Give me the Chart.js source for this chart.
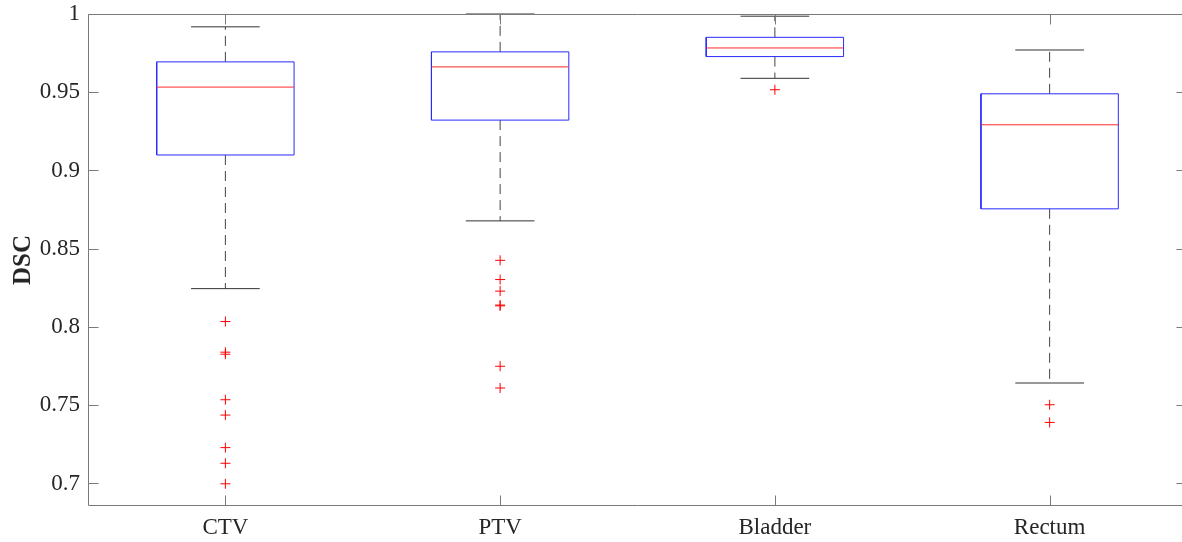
<!DOCTYPE html>
<html>
<head>
<meta charset="utf-8">
<script src="https://cdn.jsdelivr.net/npm/chart.js@4.4.0/dist/chart.umd.min.js"></script>
<style>
  html, body { margin: 0; padding: 0; background: #ffffff; overflow: hidden; }
  #wrap { position: relative; width: 1200px; height: 542px; }
</style>
</head>
<body>
<div id="wrap"><canvas id="c"></canvas></div>
<script>
// ---- data ----
const categories = ['CTV', 'PTV', 'Bladder', 'Rectum'];
const lowerWhisker = [0.8245, 0.8678, 0.9589, 0.7642];
const q1 = [0.9099, 0.9322, 0.9728, 0.8755];
const median = [0.9533, 0.9662, 0.9783, 0.9292];
const q3 = [0.9694, 0.9758, 0.9851, 0.9490];
const upperWhisker = [0.9918, 1.0000, 0.9986, 0.9770];
const outliersCTV = [0.8035, 0.7839, 0.7826, 0.7535, 0.7437, 0.7229, 0.7129, 0.6998];
const outliersPTV = [0.8426, 0.8303, 0.8229, 0.8140, 0.8135, 0.7749, 0.7610];
const outliersBladder = [0.9516];
const outliersRectum = [0.7503, 0.7390];
const yTicks = [0.7, 0.75, 0.8, 0.85, 0.9, 0.95, 1];
const yLabels = ['0.7', '0.75', '0.8', '0.85', '0.9', '0.95', '1'];
const yMin = 0.6856, yMax = 1.0;

// ---- build library data from the arrays ----
const BOX_HALF = 0.25, CAP_HALF = 0.125;
const boxPts = [], medPts = [], whiskPts = [], capPts = [], outPts = [];
const allOutliers = [outliersCTV, outliersPTV, outliersBladder, outliersRectum];
categories.forEach((c, k) => {
  const i = k + 1;
  boxPts.push({x: i - BOX_HALF, y: q1[k]}, {x: i + BOX_HALF, y: q1[k]},
              {x: i + BOX_HALF, y: q3[k]}, {x: i - BOX_HALF, y: q3[k]},
              {x: i - BOX_HALF, y: q1[k]}, {x: i, y: null});
  medPts.push({x: i - BOX_HALF, y: median[k]}, {x: i + BOX_HALF, y: median[k]}, {x: i, y: null});
  whiskPts.push({x: i, y: q3[k]}, {x: i, y: upperWhisker[k]}, {x: i, y: null},
                {x: i, y: q1[k]}, {x: i, y: lowerWhisker[k]}, {x: i, y: null});
  capPts.push({x: i - CAP_HALF, y: upperWhisker[k]}, {x: i + CAP_HALF, y: upperWhisker[k]}, {x: i, y: null},
              {x: i - CAP_HALF, y: lowerWhisker[k]}, {x: i + CAP_HALF, y: lowerWhisker[k]}, {x: i, y: null});
  allOutliers[k].forEach(v => outPts.push({x: i, y: v}));
});

const FONT = "'Liberation Serif', 'Times New Roman', serif";
const AXIS_COLOR = '#7a7a7a';
const TEXT_COLOR = '#262626';

const frameTicks = {
  id: 'frameTicks',
  afterDraw(chart) {
    const {ctx, chartArea: a, scales} = chart;
    const L = Math.round(a.left) + 0.5, R = Math.round(a.right) - 0.5;
    const T = Math.round(a.top) + 0.5, B = Math.round(a.bottom) - 0.5;
    const TL = 10;
    ctx.save();
    ctx.strokeStyle = AXIS_COLOR;
    ctx.lineWidth = 1;
    ctx.beginPath();
    ctx.rect(L, T, R - L, B - T);
    scales.y.ticks.forEach(t => {
      const py = Math.round(scales.y.getPixelForValue(t.value)) + 0.5;
      ctx.moveTo(L, py); ctx.lineTo(L + TL, py);
      ctx.moveTo(R, py); ctx.lineTo(R - TL, py);
    });
    scales.x.ticks.forEach(t => {
      const px = Math.round(scales.x.getPixelForValue(t.value)) + 0.5;
      ctx.moveTo(px, B); ctx.lineTo(px, B - TL);
      ctx.moveTo(px, T); ctx.lineTo(px, T + TL);
    });
    ctx.stroke();
    ctx.restore();
  }
};

new Chart(document.getElementById('c'), {
  type: 'scatter',
  data: {
    datasets: [
      { data: outPts, showLine: false, pointStyle: 'cross', pointRadius: 5, pointBorderWidth: 1,
        borderColor: '#ff0000', backgroundColor: '#ff0000', clip: false },
      { data: medPts, showLine: true, spanGaps: false, pointRadius: 0, borderWidth: 1,
        borderColor: '#ff2a2a', clip: false },
      { data: boxPts, showLine: true, spanGaps: false, pointRadius: 0, borderWidth: 1,
        borderColor: '#2a2aff', clip: false },
      { data: capPts, showLine: true, spanGaps: false, pointRadius: 0, borderWidth: 1,
        borderColor: '#333333', clip: false },
      { data: whiskPts, showLine: true, spanGaps: false, pointRadius: 0, borderWidth: 1,
        borderColor: '#444444', borderDash: [10, 6], clip: false }
    ]
  },
  options: {
    responsive: true,
    maintainAspectRatio: false,
    animation: false,
    events: [],
    layout: { padding: { left: 0, right: 13, top: 14, bottom: 0 } },
    plugins: { legend: { display: false }, tooltip: { enabled: false } },
    scales: {
      x: {
        type: 'linear', min: 0.5, max: 4.5,
        grid: { display: false, drawTicks: false },
        border: { display: false },
        afterBuildTicks(s) { s.ticks = categories.map((c, k) => ({ value: k + 1 })); },
        afterFit(s) { s.height = 36; s.paddingLeft = 0; s.paddingRight = 0; },
        ticks: {
          padding: 8, color: TEXT_COLOR, font: { family: FONT, size: 23 },
          maxRotation: 0, autoSkip: false,
          callback: (v) => categories[Math.round(v) - 1]
        }
      },
      y: {
        type: 'linear', min: yMin, max: yMax,
        grid: { display: false, drawTicks: false },
        border: { display: false },
        afterBuildTicks(s) { s.ticks = yTicks.map(v => ({ value: v })); },
        afterFit(s) { s.width = 88; s.paddingTop = 0; s.paddingBottom = 0; },
        ticks: {
          padding: 8, color: TEXT_COLOR, font: { family: FONT, size: 23 },
          callback: (v) => yLabels[yTicks.findIndex(t => Math.abs(t - v) < 1e-9)]
        },
        title: {
          display: true, text: 'DSC', color: TEXT_COLOR,
          font: { family: FONT, size: 25, weight: 'bold' },
          padding: { top: 9, bottom: 0 }
        }
      }
    }
  },
  plugins: [frameTicks]
});
</script>
</body>
</html>
